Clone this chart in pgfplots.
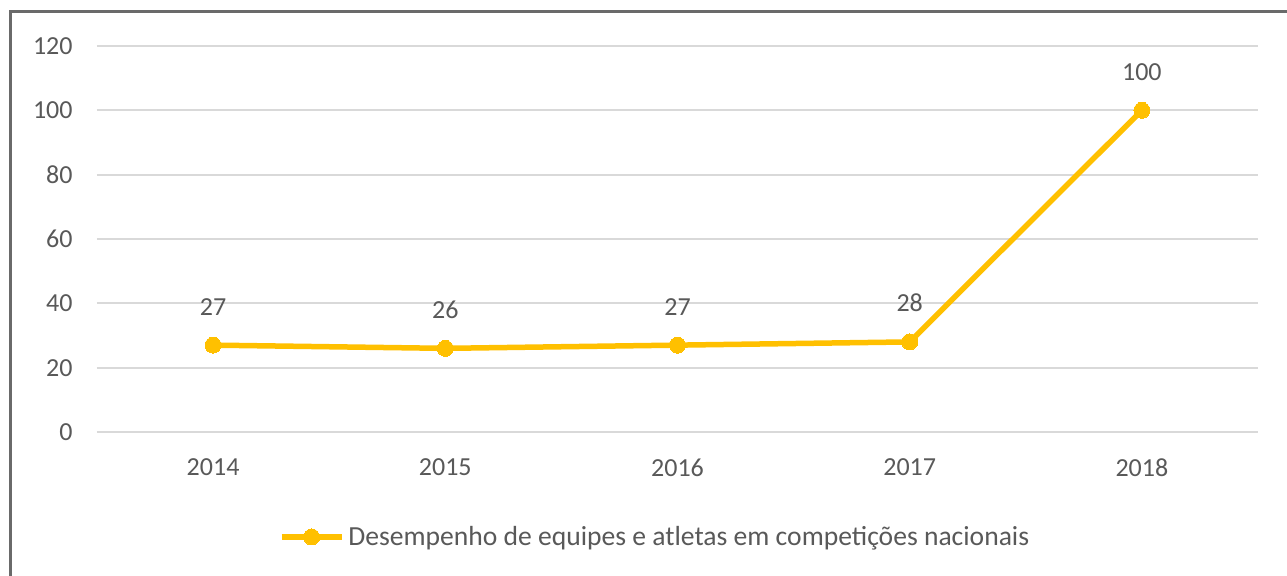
\documentclass[border=0pt]{standalone}
\usepackage{pgfplots}
\pgfplotsset{compat=1.18}
\usepackage{fontspec}
\setmainfont{Carlito}
\definecolor{txt}{HTML}{595959}
\definecolor{gridc}{HTML}{D9D9D9}
\definecolor{gold}{HTML}{FFC000}
\definecolor{framec}{HTML}{6A6A6A}
\begin{document}
\begin{tikzpicture}[x=0.5pt,y=0.5pt]
\useasboundingbox (0,0) rectangle (1287,576);
\fill[white] (0,0) rectangle (1287,576);
\draw[framec, line width=1.5pt] (10.5,-10) -- (10.5,564.5) -- (1300,564.5);
\begin{axis}[
  at={(97*0.5pt,144*0.5pt)}, anchor=south west,
  scale only axis, width=580.5pt, height=193pt,
  xmin=-0.5, xmax=4.5, ymin=0, ymax=120,
  xtick={0,1,2,3,4}, xticklabels={2014,2015,2016,2017,2018},
  ytick={0,20,...,120},
  axis line style={draw=none},
  major tick length=0pt,
  xmajorgrids=false, ymajorgrids=true, major grid style={draw=gridc, line width=1pt},
  font=\fontsize{13pt}{15pt}\selectfont,
  tick label style={txt},
  /pgf/number format/assume math mode=true,
  yticklabel style={xshift=-8.7pt},
  xticklabel style={yshift=-9.7pt},
  clip=false,
  legend style={at={(0.4815,-0.272)}, anchor=center, draw=none, fill=none,
    font=\fontsize{13.8pt}{16pt}\selectfont\color{txt}, inner sep=0pt},
  legend image code/.code={
    \draw[mark repeat=2, mark phase=2] plot coordinates {(0pt,0pt) (15pt,0pt) (30pt,0pt)};
  },
  nodes near coords,
  every node near coord/.append style={txt, yshift=11.7pt, font=\fontsize{13pt}{15pt}\selectfont},
]
\addplot[gold, line width=2.75pt, mark=*, mark size=4pt, mark options={fill=gold, draw=gold, line width=0pt}]
  coordinates {(0,27) (1,26) (2,27) (3,28) (4,100)};
\addlegendentry{Desempenho de equipes e atletas em competições nacionais}
\end{axis}
\end{tikzpicture}
\end{document}
